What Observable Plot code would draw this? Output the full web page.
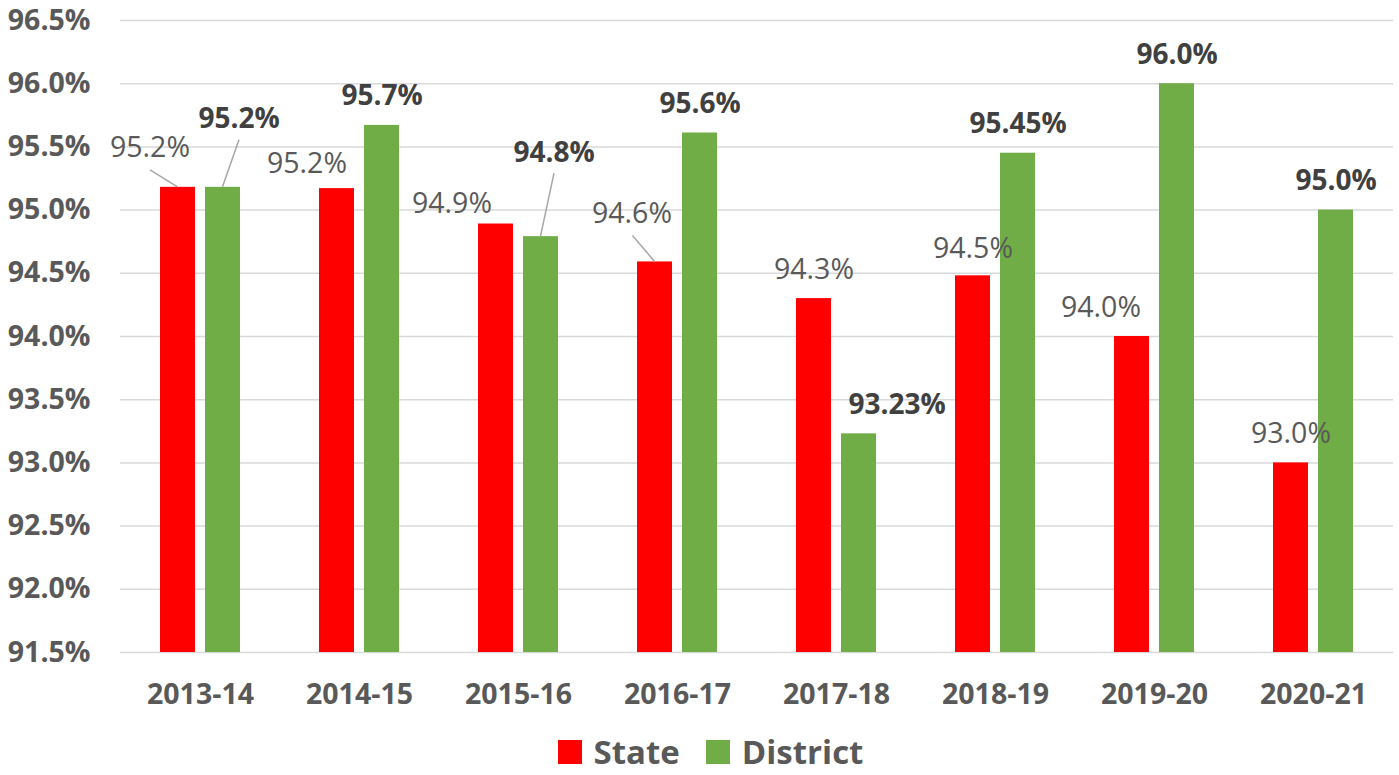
<!DOCTYPE html>
<html>
<head>
<meta charset="utf-8">
<script src="https://cdn.jsdelivr.net/npm/d3@7"></script>
<script src="https://cdn.jsdelivr.net/npm/@observablehq/plot@0.6"></script>
<style>
  body { margin: 0; background: #fff; font-family: "Open Sans", sans-serif; }
  #legend { display: flex; justify-content: center; align-items: center; margin-top: 10px; padding-left: 22px;
            font-size: 33px; line-height: 1.36; font-weight: bold; color: #595959; }
  .item { display: flex; align-items: center; margin: 0 13px; }
  .sw { width: 24px; height: 24px; margin-right: 12px; }
</style>
</head>
<body>
<div id="chart"></div>
<div id="legend"></div>
<script>
const years = ["2013-14", "2014-15", "2015-16", "2016-17", "2017-18", "2018-19", "2019-20", "2020-21"];
const stateValues = [95.18, 95.17, 94.89, 94.59, 94.30, 94.48, 94.00, 93.00];
const districtValues = [95.18, 95.67, 94.79, 95.61, 93.23, 95.45, 96.00, 95.00];
const stateLabels = ["95.2%", "95.2%", "94.9%", "94.6%", "94.3%", "94.5%", "94.0%", "93.0%"];
const districtLabels = ["95.2%", "95.7%", "94.8%", "95.6%", "93.23%", "95.45%", "96.0%", "95.0%"];
const yTicks = [91.5, 92.0, 92.5, 93.0, 93.5, 94.0, 94.5, 95.0, 95.5, 96.0, 96.5];
const seriesNames = ["State", "District"];

// layout: per-label nudges (pixels, relative to default above-bar placement)
const stateNudge = [[-28, -10], [-30, 4], [-44, 9], [-23, -19], [0, 0], [0, 2], [-31, 0], [0, 0]];
const districtNudge = [[16, -39], [0, 0], [13, -55], [0, 0], [38, 0], [0, 0], [0, 0], [0, 0]];
// leader lines: [series, index, startDx, startDy]
const leaders = [["State", 0, -27.5, -17], ["District", 0, 16.5, -47], ["District", 2, 13.5, -63], ["State", 3, -22, -26]];

const RED = "#FF0000", GREEN = "#70AD47", GRAY = "#595959";
const half = 22.5;

const state = years.map((y, i) => ({year: y, value: stateValues[i], label: stateLabels[i], nudge: stateNudge[i]}));
const district = years.map((y, i) => ({year: y, value: districtValues[i], label: districtLabels[i], nudge: districtNudge[i]}));

const labelMarks = [];
state.forEach(d => labelMarks.push(Plot.text([d], {x: "year", y: "value", text: "label", dx: -half + d.nudge[0], dy: -20 + d.nudge[1],
  lineAnchor: "bottom", fontSize: 28.5, fill: GRAY})));
district.forEach(d => labelMarks.push(Plot.text([d], {x: "year", y: "value", text: "label", dx: half + d.nudge[0], dy: -20 + d.nudge[1],
  lineAnchor: "bottom", fontSize: 28, fontWeight: "bold", fill: "#404040"})));

function leaderMark(index, scales) {
  const g = d3.create("svg:g").attr("stroke", "#a6a6a6").attr("stroke-width", 1.5);
  let bw = scales.x.bandwidth;
  if (typeof bw === "function") bw = bw();
  if (!(bw > 0)) bw = scales.scales && scales.scales.x ? scales.scales.x.bandwidth : 0;
  if (!(bw > 0)) bw = (scales.x(years[1]) - scales.x(years[0])) * (1 - 0.497);
  for (const [s, i, sx, sy] of leaders) {
    const v = s === "State" ? stateValues[i] : districtValues[i];
    const cx = scales.x(years[i]) + bw / 2 + (s === "State" ? -half : half);
    const cy = scales.y(v);
    g.append("line").attr("x1", cx + sx).attr("y1", cy + sy).attr("x2", cx).attr("y2", cy);
  }
  return g.node();
}

const chart = Plot.plot({
  width: 1399,
  height: 720,
  marginLeft: 120,
  marginRight: 6,
  marginTop: 20,
  marginBottom: 68,
  style: {fontFamily: "'Open Sans', sans-serif", background: "#fff"},
  x: {domain: years, paddingInner: 0.497, paddingOuter: 0.2485, label: null},
  y: {domain: [91.5, 96.5], label: null},
  marks: [
    Plot.gridY(yTicks, {stroke: "#d9d9d9", strokeOpacity: 1, strokeWidth: 1.5}),
    Plot.axisY(yTicks, {tickSize: 0, tickPadding: 30, tickFormat: d => d.toFixed(1) + "%", fontSize: 28.5, fontWeight: "bold", fill: GRAY, label: null}),
    Plot.axisX({tickSize: 0, tickPadding: 31, fontSize: 28.5, fontWeight: "bold", fill: GRAY, label: null}),
    Plot.barY(state, {x: "year", y1: () => 91.5, y2: "value", fill: RED, insetRight: 45}),
    Plot.barY(district, {x: "year", y1: () => 91.5, y2: "value", fill: GREEN, insetLeft: 45}),
    leaderMark,
    ...labelMarks
  ]
});
document.getElementById("chart").append(chart);

const legend = document.getElementById("legend");
[[seriesNames[0], RED], [seriesNames[1], GREEN]].forEach(([name, c]) => {
  const it = document.createElement("div"); it.className = "item";
  const sw = document.createElement("div"); sw.className = "sw"; sw.style.background = c;
  const t = document.createElement("span"); t.textContent = name;
  it.append(sw, t); legend.append(it);
});
</script>
</body>
</html>
